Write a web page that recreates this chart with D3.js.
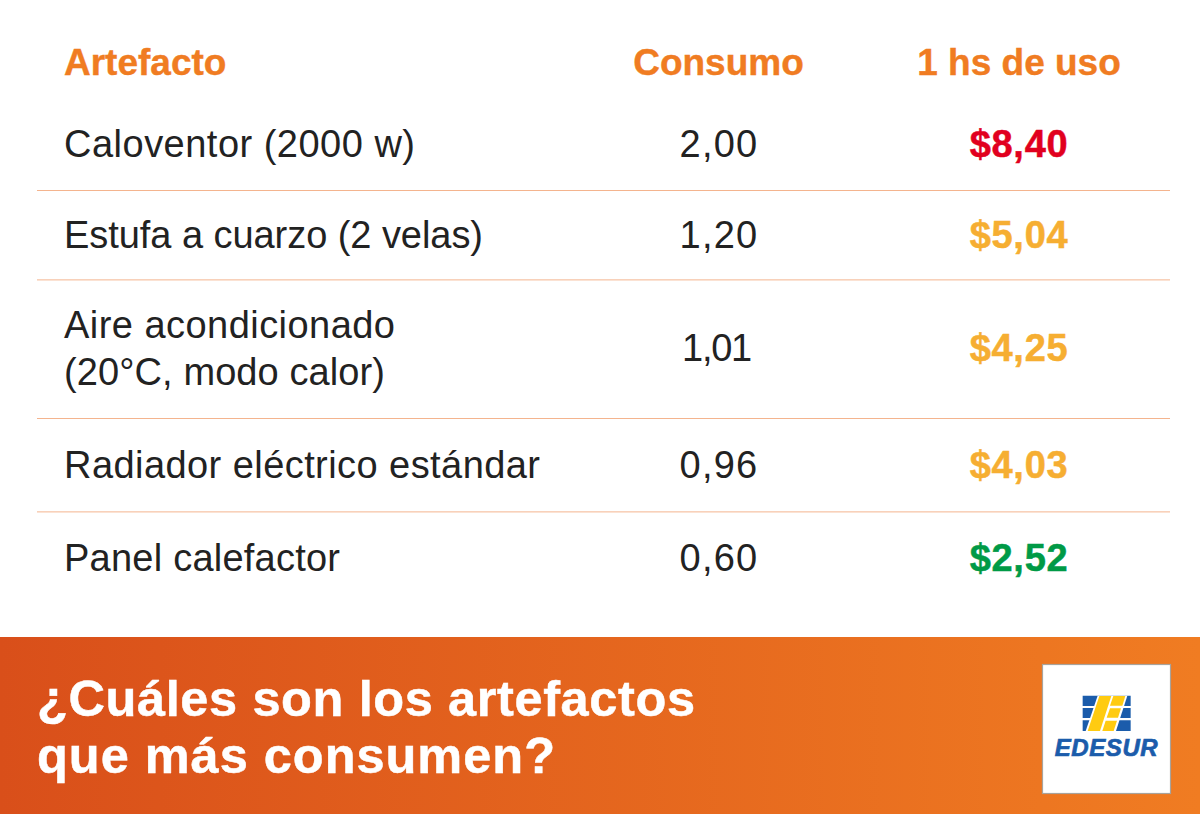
<!DOCTYPE html>
<html><head><meta charset="utf-8">
<script src="https://cdn.jsdelivr.net/npm/d3@7/dist/d3.min.js"></script>
<style>html,body{margin:0;padding:0;background:#fff;overflow:hidden}svg{display:block}text{font-family:"Liberation Sans",Arial,sans-serif}</style>
</head><body><svg id="c" width="1200" height="815"></svg>
<script>
const headers = ["Artefacto","Consumo","1 hs de uso"];
const categories = [["Caloventor (2000 w)"],["Estufa a cuarzo (2 velas)"],["Aire acondicionado","(20°C, modo calor)"],["Radiador eléctrico estándar"],["Panel calefactor"]];
const rowKeys = ["caloventor","estufa","aire","radiador","panel"];
const consumo = [2.00,1.20,1.01,0.96,0.60];
const costo = [8.40,5.04,4.25,4.03,2.52];
const costLevel = ["alto","medio","medio","medio","bajo"];
const title = ["¿Cuáles son los artefactos","que más consumen?"];

const svg = d3.select("#c");
const fmt = v => d3.format(".2f")(v).replace(".",",");
const rowY = d3.scaleOrdinal().domain(rowKeys).range([145,236,349,466,559]);
const rules = d3.scaleOrdinal().domain(rowKeys.slice(0,4)).range([190.5,279.9,418.5,511.9]);
const color = d3.scaleOrdinal().domain(["alto","medio","bajo"]).range(["#E1001E","#F6AE32","#009A46"]);
const nameWidth = d3.scaleOrdinal().domain(categories.flat()).range([351,419,331,321,476,276]);
const titleWidth = d3.scaleOrdinal().domain(title).range([658,518]);
const ORANGE="#F07C22";

const defs = svg.append("defs");
const g = defs.append("linearGradient").attr("id","band");
g.append("stop").attr("offset",0).attr("stop-color","#D94F1A");
g.append("stop").attr("offset",1).attr("stop-color","#F07C22");

// headers
svg.selectAll(".h").data(headers).join("text").attr("class","h")
  .attr("x",(d,i)=>[64,718.5,1019][i]).attr("y",75)
  .attr("text-anchor",(d,i)=>i?"middle":"start")
  .attr("font-size",37).attr("font-weight",700).attr("fill",ORANGE)
  .attr("stroke",ORANGE).attr("stroke-width",0.4).text(d=>d);

// rules
svg.selectAll(".r").data(rules.domain()).join("line").attr("class","r")
  .attr("x1",37).attr("x2",1170).attr("y1",d=>rules(d)).attr("y2",d=>rules(d))
  .attr("stroke","#F4B48E").attr("stroke-width",1);

// rows
const row = svg.selectAll(".row").data(rowKeys).join("g").attr("class","row");
row.each(function(k,i){
  const s=d3.select(this), lines=categories[i], y=rowY(k);
  s.selectAll(".n").data(lines).join("text").attr("class","n").attr("x",64)
    .attr("y",(d,j)=>y+12-(lines.length-1)*23.5+j*47)
    .attr("font-size",38).attr("textLength",d=>nameWidth(d)).attr("lengthAdjust","spacing")
    .attr("fill","#222").text(d=>d);
  s.append("text").attr("x",i==2?716.5:719).attr("y",y+12).attr("text-anchor","middle")
    .attr("font-size",38).attr("letter-spacing",i==2?-1.3:1.2).attr("fill","#222").text(fmt(consumo[i]));
  s.append("text").attr("x",1019).attr("y",y+12).attr("text-anchor","middle")
    .attr("font-size",38).attr("letter-spacing",0.7).attr("font-weight",700)
    .attr("fill",color(costLevel[i])).attr("stroke",color(costLevel[i])).attr("stroke-width",0.5)
    .text("$"+fmt(costo[i]));
});

// band
svg.append("rect").attr("x",0).attr("y",637).attr("width",1200).attr("height",177).attr("fill","url(#band)");
svg.selectAll(".t").data(title).join("text").attr("class","t").attr("x",37).attr("y",(d,i)=>716+i*57)
  .attr("font-size",50.5).attr("font-weight",700).attr("textLength",d=>titleWidth(d)).attr("lengthAdjust","spacing")
  .attr("fill","#fff").attr("stroke","#fff").attr("stroke-width",0.5).text(d=>d);

// logo
const logo = svg.append("g");
logo.append("rect").attr("x",1042.5).attr("y",664.5).attr("width",128).attr("height",129).attr("fill","#fff").attr("stroke","#a8a39c").attr("stroke-width",1.2);
const zx=v=>1020+v/3, zy=v=>650+v/3;
const line=d3.line().x(p=>zx(p[0])).y(p=>zy(p[1]));
const poly=(pts,f)=>logo.append("path").attr("d",line(pts)+"Z").attr("fill",f);
const BLUE="#1B5CAB",YEL="#FFCB11";
[[137,168],[174,204],[211,243]].forEach(([a,b])=>poly([[188,a],[332,a],[332,b],[188,b]],BLUE));
poly([[233,137],[322,137],[288,243],[197,243]],"#fff");
poly([[238,138],[274,138],[240,243],[203,243]],YEL);
poly([[280,138],[316,138],[307,167],[270,167]],YEL);
poly([[270,175],[303,175],[294,203],[260,203]],YEL);
poly([[257,212],[291,212],[281,243],[247,243]],YEL);
logo.append("text").attr("x",1106.5).attr("y",756).attr("text-anchor","middle").attr("font-size",24)
  .attr("font-weight",700).attr("font-style","italic").attr("letter-spacing",0.6).attr("fill",BLUE).attr("stroke",BLUE).attr("stroke-width",0.7).text("EDESUR");
</script></body></html>
